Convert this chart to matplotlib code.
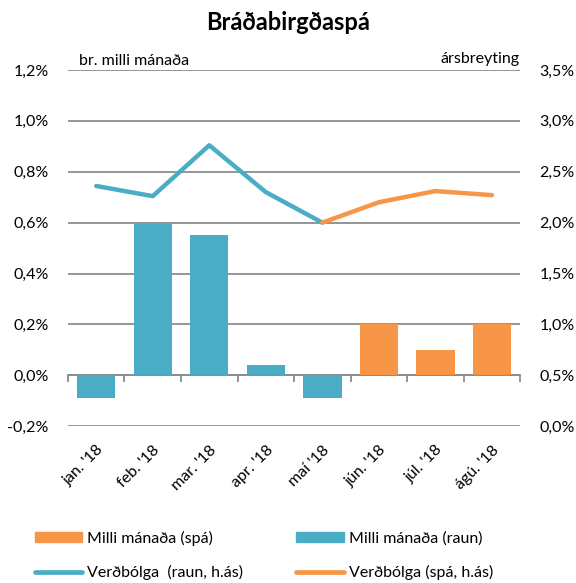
import numpy as np
import matplotlib
matplotlib.use("Agg")
import matplotlib.pyplot as plt
from matplotlib.patches import Patch
from matplotlib.lines import Line2D

plt.rcParams['font.family'] = ['Lato', 'DejaVu Sans']

months = ["jan. '18", "feb. '18", "mar. '18", "apr. '18", "maí '18",
          "jún. '18", "júl. '18", "ágú. '18"]
# breyting milli mánaða (%)
mom_raun = [-0.09, 0.60, 0.55, 0.04, -0.09, np.nan, np.nan, np.nan]
mom_spa = [np.nan, np.nan, np.nan, np.nan, np.nan, 0.20, 0.10, 0.20]
# ársverðbólga (%), hægri ás
infl_raun = [2.36, 2.26, 2.76, 2.30, 2.00, np.nan, np.nan, np.nan]
infl_spa = [np.nan, np.nan, np.nan, np.nan, 2.00, 2.20, 2.31, 2.27]

blue = '#4BACC6'
orange = '#F79646'
grid = '#8C8C8C'

fig = plt.figure(figsize=(5.76, 5.83), dpi=100)
ax = fig.add_axes([0.118, 0.269, 0.785, 0.611])
x = np.arange(len(months))

ax.bar(x, mom_raun, width=0.68, color=blue, zorder=3)
ax.bar(x, mom_spa, width=0.68, color=orange, zorder=3)

ax.set_xlim(-0.5, len(months) - 0.5)
ax.set_ylim(-0.2, 1.2)
ax.set_yticks(np.arange(-0.2, 1.21, 0.2))
ax.set_yticklabels([('%.1f%%' % v).replace('.', ',').replace('-0,0', '0,0') for v in np.arange(-0.2, 1.21, 0.2)])
ax.grid(axis='y', color=grid, linewidth=1.3)
ax.set_axisbelow(True)
for s in ax.spines.values():
    s.set_visible(False)
ax.tick_params(axis='y', length=0, pad=14, labelsize=11.5)
ax.set_xticks(x)
ax.set_xticklabels(months, rotation=45, ha='right', va='top', rotation_mode='anchor')
ax.tick_params(axis='x', length=0, pad=12, labelsize=11.5)

# x-ás við 0,0% með merkjum milli flokka
sec = ax.secondary_xaxis(0.2 / 1.4)
sec.set_xticks(np.arange(-0.5, len(months), 1.0))
sec.set_xticklabels([])
sec.tick_params(axis='x', length=5, width=1.3, color=grid)
sec.spines['bottom'].set_color(grid)
sec.spines['bottom'].set_linewidth(1.3)

ax2 = ax.twinx()
ax2.plot(x, infl_raun, color=blue, linewidth=3.2, solid_capstyle='round')
ax2.plot(x, infl_spa, color=orange, linewidth=3.2, solid_capstyle='round')
ax2.set_ylim(0, 3.5)
ax2.set_yticks(np.arange(0, 3.51, 0.5))
ax2.set_yticklabels([('%.1f%%' % v).replace('.', ',') for v in np.arange(0, 3.51, 0.5)])
ax2.tick_params(axis='y', length=0, pad=14, labelsize=11.5)
for s in ax2.spines.values():
    s.set_visible(False)

fig.text(0.5, 0.962, 'Bráðabirgðaspá', ha='center', va='center',
         fontsize=17, fontweight='bold')
ax.text(0.025, 1.005, 'br. milli mánaða', transform=ax.transAxes,
        ha='left', va='bottom', fontsize=11.5)
ax.text(0.998, 1.012, 'ársbreyting', transform=ax.transAxes,
        ha='right', va='bottom', fontsize=11.5)

handles = [Patch(color=orange), Line2D([], [], color=blue, linewidth=3.4, solid_capstyle='round'),
           Patch(color=blue), Line2D([], [], color=orange, linewidth=3.4, solid_capstyle='round')]
labels = ['Milli mánaða (spá)', 'Verðbólga  (raun, h.ás)',
          'Milli mánaða (raun)', 'Verðbólga (spá, h.ás)']
fig.legend(handles, labels, ncol=2, loc='lower left', bbox_to_anchor=(0.035, -0.02),
           frameon=False, fontsize=11.5, handlelength=3.0, handleheight=0.6,
           handletextpad=0.3, columnspacing=3.3, labelspacing=1.2)

fig.savefig('out.png', dpi=100)
